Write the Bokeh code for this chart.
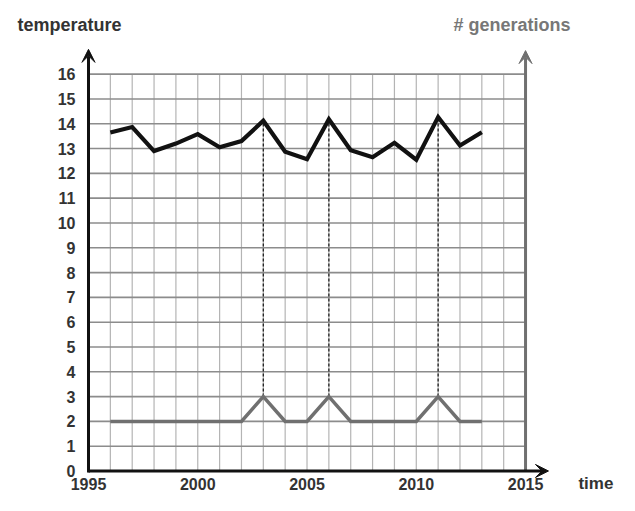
from bokeh.plotting import figure
from bokeh.models import Range1d, Label, Arrow, VeeHead, FixedTicker
from bokeh.embed import file_html
from bokeh.resources import INLINE

# ---- data ----
years = list(range(1996, 2014))
temperature = [13.65, 13.87, 12.9, 13.2, 13.58, 13.05, 13.3, 14.12, 12.87, 12.57,
               14.18, 12.93, 12.65, 13.23, 12.55, 14.27, 13.12, 13.66]
generations = [2, 2, 2, 2, 2, 2, 2, 3, 2, 2, 3, 2, 2, 2, 2, 3, 2, 2]
y_ticks = list(range(0, 17))
x_ticks = [1995, 2000, 2005, 2010, 2015]
x_min, x_max = 1995, 2015
y_min, y_max = 0, 16
grid_years = list(range(x_min + 1, x_max))
grid_levels = list(range(y_min + 1, y_max + 1))

FONT = "Liberation Sans"

p = figure(width=619, height=495, output_backend="svg", toolbar_location=None,
           x_range=Range1d(1990.973, 2019.30), y_range=Range1d(-0.988, 18.97),
           min_border_left=0, min_border_right=0, min_border_top=0,
           min_border_bottom=0)
p.outline_line_color = None
p.grid.visible = False
p.background_fill_color = "white"
p.border_fill_color = "white"

for ax in (p.xaxis[0], p.yaxis[0]):
    ax.axis_line_color = None
    ax.major_tick_line_color = None
    ax.minor_tick_line_color = None
    ax.major_tick_out = 0
    ax.major_tick_in = 0
    ax.minor_tick_out = 0
    ax.minor_tick_in = 0
    ax.major_label_text_font = FONT
    ax.major_label_text_font_style = "bold"
    ax.major_label_text_font_size = "16px"
    ax.major_label_text_color = "#333333"

p.xaxis.ticker = FixedTicker(ticks=x_ticks)
p.yaxis.ticker = FixedTicker(ticks=y_ticks)
p.xaxis.fixed_location = y_min
p.yaxis.fixed_location = x_min
p.xaxis.major_label_standoff = 7
p.yaxis.major_label_standoff = 13

# grid
p.segment(x0=grid_years, y0=[y_min] * len(grid_years), x1=grid_years,
          y1=[y_max] * len(grid_years), line_color="#b4b4b4", line_width=1.2)
p.segment(x0=[x_min] * len(grid_levels), y0=grid_levels, x1=[x_max] * len(grid_levels),
          y1=grid_levels, line_color="#8c8c8c", line_width=1.6)

# dashed connectors
peak_years = [y for y, g in zip(years, generations) if g == 3]
peak_gen = [g for g in generations if g == 3]
peak_temp = [t for t, g in zip(temperature, generations) if g == 3]
p.segment(x0=peak_years, y0=peak_gen, x1=peak_years, y1=peak_temp,
          line_color="#222222", line_width=1.3, line_dash="3 2")

# series
p.line(years, generations, line_color="#707070", line_width=3.5, line_join="miter")
p.line(years, temperature, line_color="#111111", line_width=4.2, line_join="miter")

# axes with arrows
p.add_layout(Arrow(end=VeeHead(size=13, fill_color="#707070", line_color="#707070"),
                   x_start=x_max, y_start=y_min, x_end=x_max, y_end=y_max + 0.95,
                   line_color="#707070", line_width=3))
p.add_layout(Arrow(end=VeeHead(size=13, fill_color="#111111", line_color="#111111"),
                   x_start=x_min, y_start=y_min - 0.06, x_end=x_min, y_end=y_max + 1.0,
                   line_color="#111111", line_width=3))
p.add_layout(Arrow(end=VeeHead(size=13, fill_color="#111111", line_color="#111111"),
                   x_start=x_min, y_start=y_min, x_end=x_max + 1.05, y_end=y_min,
                   line_color="#111111", line_width=3))

# axis titles
p.add_layout(Label(x=1991.75, y=18.0, text="temperature", text_font=FONT,
                   text_font_style="bold", text_font_size="18px", text_color="#333333",
                   text_baseline="middle"))
p.add_layout(Label(x=2011.7, y=18.0, text="# generations", text_font=FONT,
                   text_font_style="bold", text_font_size="18px", text_color="#777777",
                   text_baseline="middle"))
p.add_layout(Label(x=2017.42, y=-0.5, text="time", text_font=FONT,
                   text_font_style="bold", text_font_size="17px", text_color="#333333",
                   text_baseline="middle"))

open("out.html", "w").write(file_html(p, INLINE))
